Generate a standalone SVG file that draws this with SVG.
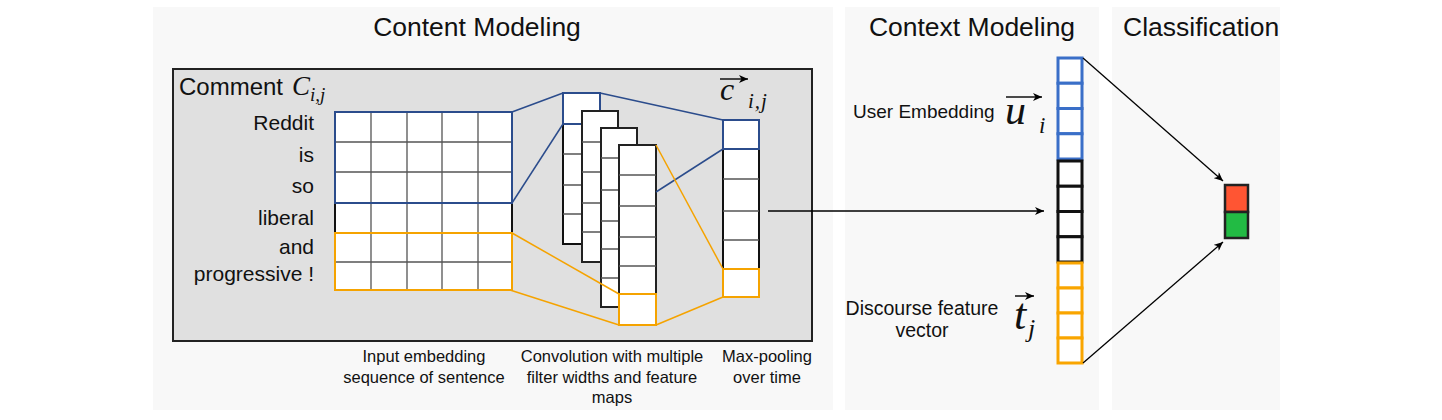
<svg xmlns="http://www.w3.org/2000/svg" width="1442" height="420" viewBox="0 0 1442 420">
<defs>
<marker id="ah" markerWidth="10" markerHeight="8" refX="9" refY="4" orient="auto" markerUnits="userSpaceOnUse">
<path d="M0,0 L9,4 L0,8 L2.5,4 z" fill="#000"/>
</marker>
<style>
.panel{fill:#f8f8f8}
.title{font-family:"Liberation Sans",Arial,Helvetica,sans-serif;font-size:26.5px;fill:#111}
.lbl{font-family:"Liberation Sans",Arial,Helvetica,sans-serif;fill:#111}
.math{font-family:"Liberation Serif","Times New Roman",serif;font-style:italic;fill:#111}
.cell{fill:#fff;stroke:none}
.gl{stroke:#555;stroke-width:1.3;fill:none}
.box{fill:none;stroke:#111;stroke-width:2}
.blue{fill:none;stroke:#2b4c8c;stroke-width:2}
.orange{fill:none;stroke:#f5a300;stroke-width:2}
.cb{stroke:#2b4c8c;stroke-width:1.5;fill:none}
.co{stroke:#f5a300;stroke-width:1.5;fill:none}
.arr{stroke:#000;stroke-width:1.3;fill:none;marker-end:url(#ah)}
.vb{fill:#fff;stroke:#3a6fc8;stroke-width:3}
.vk{fill:#fff;stroke:#111;stroke-width:3}
.vo{fill:#fff;stroke:#f9a500;stroke-width:3}
</style>
</defs>
<rect width="1442" height="420" fill="#fff"/>

<g id="panels">
<rect class="panel" x="153" y="7" width="680" height="403"/>
<rect class="panel" x="845" y="7" width="254" height="403"/>
<rect class="panel" x="1112" y="7" width="168" height="403"/>
<text class="title" x="477" y="36" text-anchor="middle">Content Modeling</text>
<text class="title" x="972" y="36" text-anchor="middle">Context Modeling</text>
<text class="title" x="1123" y="36">Classification</text>
</g>

<g id="comment-box">
<rect x="173" y="69" width="639" height="272" fill="#e0e0e0" stroke="#222" stroke-width="2"/>
<text class="lbl" x="179" y="95" font-size="24">Comment</text>
<text class="math" x="292" y="95" font-size="27">C</text>
<text class="math" x="310" y="101" font-size="19">i,j</text>
<g class="lbl" font-size="21" text-anchor="end">
<text x="314" y="130">Reddit</text>
<text x="314" y="162">is</text>
<text x="314" y="193">so</text>
<text x="314" y="225">liberal</text>
<text x="314" y="254">and</text>
<text x="314" y="281">progressive !</text>
</g>
</g>

<g id="input-matrix">
<rect class="cell" x="335" y="112" width="177" height="178"/>
<path class="gl" d="M371,112V290M407,112V290M442,112V290M478,112V290M335,142H512M335,172H512M335,203H512M335,233H512M335,262H512"/>
<rect class="box" x="335" y="112" width="177" height="178"/>
<rect class="blue" x="335" y="112" width="177" height="91"/>
<rect class="orange" x="335" y="233" width="177" height="57"/>
</g>

<g id="feature-map-1">
<rect x="563" y="93" width="37" height="151" fill="#fff" stroke="#111" stroke-width="2"/>
<path class="gl" d="M563,154H600M563,185H600M563,214H600"/>
<rect class="blue" x="563" y="93" width="37" height="31"/>
</g>
<g id="feature-map-2">
<rect x="582" y="111" width="36" height="151" fill="#fff" stroke="#222" stroke-width="2"/>
<path class="gl" d="M582,142H618M582,172H618M582,203H618M582,232H618"/>
</g>
<g id="feature-map-3">
<rect x="601" y="128" width="36" height="179" fill="#fff" stroke="#222" stroke-width="2"/>
<path class="gl" d="M601,158H637M601,190H637M601,221H637M601,249H637M601,278H637"/>
</g>
<g id="feature-map-4">
<rect x="619" y="145" width="37" height="180" fill="#fff" stroke="#222" stroke-width="2"/>
<path class="gl" d="M619,175H656M619,206H656M619,237H656M619,266H656"/>
<rect class="orange" x="619" y="294" width="37" height="31"/>
</g>

<g id="pooled-vector">
<rect x="723" y="120" width="36" height="177" fill="#fff" stroke="#111" stroke-width="2"/>
<path class="gl" d="M723,179H759M723,211H759M723,240H759"/>
<rect class="blue" x="723" y="120" width="36" height="29"/>
<rect class="orange" x="723" y="269" width="36" height="28"/>
<path d="M720,79H748" stroke="#111" stroke-width="1.5" marker-end="url(#ah)"/>
<text class="math" x="720" y="100" font-size="32">c</text>
<text class="math" x="748" y="108" font-size="21" letter-spacing="1">i,j</text>
</g>

<g id="concat-vector">
<rect class="vb" x="1058" y="58" width="24" height="25.25"/>
<rect class="vb" x="1058" y="83.25" width="24" height="25.25"/>
<rect class="vb" x="1058" y="108.5" width="24" height="25.25"/>
<rect class="vb" x="1058" y="133.75" width="24" height="25.25"/>
<rect class="vk" x="1058" y="161" width="24" height="25.25"/>
<rect class="vk" x="1058" y="186.25" width="24" height="25.25"/>
<rect class="vk" x="1058" y="211.5" width="24" height="25.25"/>
<rect class="vk" x="1058" y="236.75" width="24" height="25.25"/>
<rect class="vo" x="1058" y="263" width="24" height="25"/>
<rect class="vo" x="1058" y="288" width="24" height="25"/>
<rect class="vo" x="1058" y="313" width="24" height="25"/>
<rect class="vo" x="1058" y="338" width="24" height="25"/>
</g>

<g id="user-embedding">
<text class="lbl" x="853" y="118" font-size="19">User Embedding</text>
<path d="M1006,97H1042" stroke="#111" stroke-width="1.5" marker-end="url(#ah)"/>
<text class="math" x="1005" y="124" font-size="42">u</text>
<text class="math" x="1039" y="133" font-size="23">i</text>
</g>

<g id="discourse-feature">
<text class="lbl" x="922" y="315" font-size="19.5" text-anchor="middle">Discourse feature</text>
<text class="lbl" x="922" y="337" font-size="19.5" text-anchor="middle">vector</text>
<path d="M1015,296H1034" stroke="#111" stroke-width="1.5" marker-end="url(#ah)"/>
<text class="math" x="1014" y="329" font-size="44">t</text>
<text class="math" x="1028" y="337" font-size="26">j</text>
</g>

<g id="output">
<rect x="1225" y="185" width="23" height="27" fill="#ff5533" stroke="#222" stroke-width="2.5"/>
<rect x="1225" y="212" width="23" height="26" fill="#22bb44" stroke="#222" stroke-width="2.5"/>
</g>

<g id="captions" class="lbl" font-size="16.5" text-anchor="middle">
<text x="424" y="362">Input embedding</text>
<text x="424" y="383">sequence of sentence</text>
<text x="612" y="362">Convolution with multiple</text>
<text x="612" y="383">filter widths and feature</text>
<text x="612" y="403">maps</text>
<text x="767" y="362">Max-pooling</text>
<text x="767" y="383">over time</text>
</g>

<g id="connectors">
<path class="cb" d="M512,112L563,93"/>
<path class="cb" d="M512,203L563,124"/>
<path class="cb" d="M600,93L723,120"/>
<path class="cb" d="M656,192L723,149"/>
<path class="co" d="M512,233L619,294"/>
<path class="co" d="M510,290L619,325"/>
<path class="co" d="M656,145L723,269"/>
<path class="co" d="M656,325L723,297"/>
<path class="arr" d="M768,211H1044"/>
<path class="arr" d="M1083,58L1223,181"/>
<path class="arr" d="M1083,363L1223,242"/>
</g>
</svg>
